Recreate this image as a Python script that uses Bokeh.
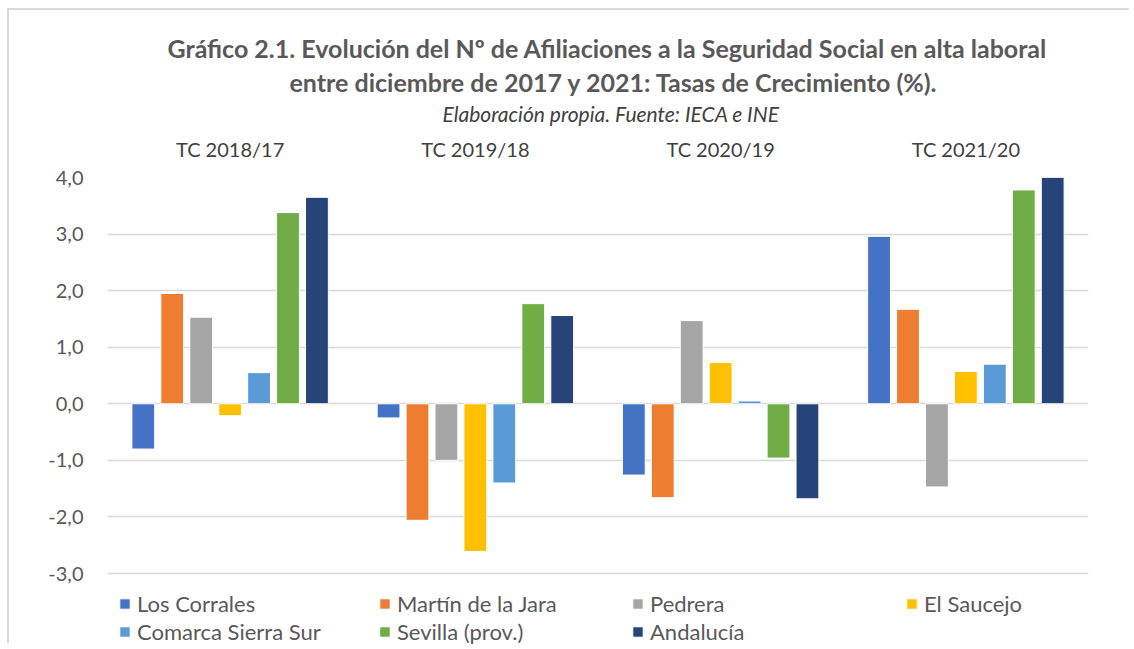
from bokeh.plotting import figure
from bokeh.models import FactorRange, FixedTicker, Legend, LegendItem, Title, ColumnDataSource
from bokeh.transform import dodge
from bokeh.embed import file_html
from bokeh.resources import INLINE

periods = ["TC 2018/17", "TC 2019/18", "TC 2020/19", "TC 2021/20"]
series = ["Los Corrales", "Martín de la Jara", "Pedrera", "El Saucejo",
          "Comarca Sierra Sur", "Sevilla (prov.)", "Andalucía"]
los_corrales = [-0.80, -0.25, -1.26, 2.96]
martin_de_la_jara = [1.95, -2.06, -1.66, 1.67]
pedrera = [1.53, -1.00, 1.47, -1.47]
el_saucejo = [-0.21, -2.61, 0.73, 0.57]
comarca_sierra_sur = [0.55, -1.40, 0.05, 0.70]
sevilla_prov = [3.38, 1.77, -0.96, 3.78]
andalucia = [3.65, 1.56, -1.68, 4.05]
values = [los_corrales, martin_de_la_jara, pedrera, el_saucejo,
          comarca_sierra_sur, sevilla_prov, andalucia]
colors = ["#4472C4", "#ED7D31", "#A5A5A5", "#FFC000", "#5B9BD5", "#70AD47", "#264478"]
y_ticks = [-3, -2, -1, 0, 1, 2, 3, 4]
y_tick_labels = ["-3,0", "-2,0", "-1,0", "0,0", "1,0", "2,0", "3,0", "4,0"]
legend_columns = [["Los Corrales", "Comarca Sierra Sur"],
                  ["Martín de la Jara", "Sevilla (prov.)"],
                  ["Pedrera", "Andalucía"],
                  ["El Saucejo"]]

FONT = "Lato"
GREY = "#595959"
OX, OY = 9, 10                 # canvas origin on the page (after margin + border)
W, H = 1134 - OX - 3, 649 - OY - 4
FRAME_L, FRAME_R, FRAME_T = 107 - OX, 1088 - OX, 177 - OY
PX_PER_UNIT = (573 - 177) / 7.0
y_bottom = 4 - (H - FRAME_T) / PX_PER_UNIT  # frame extends to figure bottom (room for legend)

p = figure(width=W, height=H, output_backend="svg", toolbar_location=None,
           x_range=FactorRange(factors=periods, range_padding=0, factor_padding=0),
           y_range=(y_bottom, 4), x_axis_location="above", title=None,
           min_border_left=FRAME_L, min_border_right=W - FRAME_R, min_border_bottom=0,
           min_border_top=FRAME_T)
p.styles = {"margin-left": "7px", "margin-top": "8px", "vertical-align": "top",
            "border-left": "2px solid #D9D9D9", "border-top": "2px solid #D9D9D9"}
p.outline_line_color = None
p.background_fill_color = "white"
p.border_fill_color = "white"

# axes
p.xaxis.axis_line_color = None
p.xaxis.major_tick_line_color = None
p.xaxis.minor_tick_line_color = None
p.xaxis.major_tick_out = 0
p.xaxis.major_label_standoff = 17
p.xaxis.major_label_text_font = FONT
p.xaxis.major_label_text_font_size = "20px"
p.xaxis.major_label_text_color = "#404040"
p.xgrid.grid_line_color = None

p.yaxis.ticker = FixedTicker(ticks=y_ticks)
p.yaxis.major_label_overrides = {t: l for t, l in zip(y_ticks, y_tick_labels)}
p.yaxis.axis_line_color = None
p.yaxis.major_tick_line_color = None
p.yaxis.minor_tick_line_color = None
p.yaxis.major_tick_out = 0
p.yaxis.major_label_standoff = 24
p.yaxis.major_label_text_font = FONT
p.yaxis.major_label_text_font_size = "20px"
p.yaxis.major_label_text_color = GREY
p.ygrid.grid_line_color = "#D9D9D9"
p.ygrid.grid_line_width = 1.5

pitch = 0.118
rend = {}
for i, (name, vals, col) in enumerate(zip(series, values, colors)):
    src = ColumnDataSource(dict(g=periods, v=vals))
    r = p.vbar(x=dodge("g", (i - 3) * pitch, range=p.x_range), top="v", bottom=0,
               width=0.093, source=src, fill_color=col, line_color="white", line_width=1)
    rend[name] = r

# legends: one per column, placed below the -3,0 gridline (page coordinates)
col_x = [118, 378, 631, 905]
row1_center = 603
label_h, gap = 27, 1
for cx, names in zip(col_x, legend_columns):
    n = len(names)
    top = row1_center - label_h / 2
    bottom = top + n * label_h + (n - 1) * gap
    lg = Legend(items=[LegendItem(label=nm, renderers=[rend[nm]]) for nm in names],
                orientation="vertical", location=(cx - 107, H - (bottom - OY)),
                glyph_width=13, glyph_height=13, label_standoff=6,
                label_height=label_h, spacing=gap, padding=0, margin=0,
                label_text_font=FONT, label_text_font_size="22px", label_text_color=GREY,
                border_line_color=None, background_fill_alpha=0)
    p.add_layout(lg, "center")

sub = Title(text="Elaboración propia. Fuente: IECA e INE", align="left", offset=335,
            text_font=FONT, text_font_style="italic", text_font_size="21px",
            text_color="#404040", standoff=16)
t2 = Title(text="entre diciembre de 2017 y 2021: Tasas de Crecimiento (%).", align="left",
           offset=182, text_font=FONT, text_font_style="bold", text_font_size="25px",
           text_color=GREY, standoff=-12)
t1 = Title(text="Gráfico 2.1. Evolución del Nº de Afiliaciones a la Seguridad Social en alta laboral",
           align="left", offset=60, text_font=FONT, text_font_style="bold",
           text_font_size="25px", text_color=GREY, standoff=15)
p.add_layout(sub, "above")
p.add_layout(t2, "above")
p.add_layout(t1, "above")

open("out.html", "w").write(file_html(p, INLINE))
